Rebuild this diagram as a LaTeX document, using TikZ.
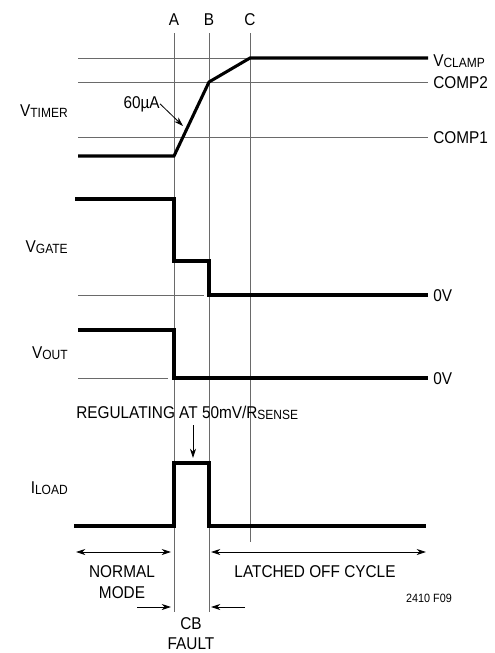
\documentclass[tikz,border=0pt]{standalone}
\usepackage{fontspec}
\setmainfont[FakeStretch=0.9]{Liberation Sans}
\usetikzlibrary{arrows.meta, positioning}
\definecolor{guidegray}{HTML}{6a6a6a}
\newcommand{\lsub}[1]{\raisebox{-1.3pt}{\fontsize{10}{10}\selectfont #1}}
\tikzset{
	signal/.style={line width=2.3pt, line join=miter},
	guide/.style={line width=0.7pt, draw=guidegray},
	lbl/.style={inner sep=0pt, font=\fontsize{12.8}{15.75}\selectfont},
	tip/.style={-{Stealth[length=7pt,width=4.5pt]}, line width=0.6pt},
	twotip/.style={{Stealth[length=7pt,width=4.5pt]}-{Stealth[length=7pt,width=4.5pt]}, line width=0.6pt},
}

\begin{document}
\begin{tikzpicture}[x=0.75pt, y=-0.75pt]
	\useasboundingbox (0,0) rectangle (494,653);

	% time marks
	\foreach \t/\x/\b in {A/174/612, B/209/612, C/250/542} {
		\node[lbl, anchor=base] (mark\t) at (\x,26) {\t};
		\coordinate (top\t) at (\x,33);
		\coordinate (bot\t) at (\x,\b);
		\draw[guide] (top\t) -- (bot\t);
	}

	% reference levels
	\coordinate (clampL) at (78,58);   \coordinate (clampR) at (428,58);
	\coordinate (comptwoL) at (78,82); \coordinate (comptwoR) at (428,82);
	\coordinate (componeL) at (78,137);\coordinate (componeR) at (428,137);
	\coordinate (gatezL) at (78,295);  \coordinate (gatezR) at (204,295);
	\coordinate (outzL) at (78,378);   \coordinate (outzR) at (168,378);
	\draw[guide] (clampL) -- (clampR);
	\draw[guide] (comptwoL) -- (comptwoR);
	\draw[guide] (componeL) -- (componeR);
	\draw[guide] (gatezL) -- (gatezR);
	\draw[guide] (outzL) -- (outzR);

	% waveforms
	\draw[signal] (78,156) -- (174,156) -- (209,82) -- (250,58) -- (428,58);
	\draw[signal] (75,199) -- (174,199) -- (174,261) -- (209,261) -- (209,295) -- (428,295);
	\draw[signal] (78,330) -- (174,330) -- (174,378) -- (428,378);
	\draw[signal] (74,526) -- (174,526) -- (174,463) -- (209,463) -- (209,526) -- (426,526);

	% signal names
	\node[lbl, anchor=base east] (vtimer) at (68,116) {V\lsub{TIMER}};
	\node[lbl, anchor=base east] (vgate) at (68,252) {V\lsub{GATE}};
	\node[lbl, anchor=base east] (vout) at (68,358) {V\lsub{OUT}};
	\node[lbl, anchor=base east] (iload) at (68,493) {I\lsub{LOAD}};

	% level names
	\node[lbl, anchor=base west] (vclamp) at (433,66) {V\lsub{CLAMP}};
	\node[lbl, anchor=base west] (comptwo) at (433,88) {COMP2};
	\node[lbl, anchor=base west] (compone) at (433,143) {COMP1};
	\node[lbl, anchor=base west] (gatezero) at (433,301) {0V};
	\node[lbl, anchor=base west] (outzero) at (433,384) {0V};

	% slope note
	\node[lbl, anchor=base east] (slope) at (160,108) {60µA};
	\coordinate (slopetip) at (183,126);
	\draw[tip] (slope.east) -- (slopetip);

	% regulation note
	\node[lbl, anchor=base west] (reg) at (76,418) {REGULATING AT 50mV/R\lsub{SENSE}};
	\coordinate (regtail) at (193,425);
	\coordinate (regtip) at (193,458);
	\draw[tip] (regtail) -- (regtip);

	% intervals
	\coordinate (normL) at (76,552);  \coordinate (normR) at (171,552);
	\coordinate (latchL) at (211,552); \coordinate (latchR) at (426,552);
	\draw[twotip] (normL) -- (normR);
	\draw[twotip] (latchL) -- (latchR);
	\node[lbl, align=center, anchor=base] (normal) at (122,598) {NORMAL\\MODE};
	\node[lbl, anchor=base] (latched) at (315,577) {LATCHED OFF CYCLE};

	\coordinate (faultAtail) at (137,607); \coordinate (faultAtip) at (171,607);
	\coordinate (faultBtail) at (245,607); \coordinate (faultBtip) at (211,607);
	\draw[tip] (faultAtail) -- (faultAtip);
	\draw[tip] (faultBtail) -- (faultBtip);
	\node[lbl, align=center, anchor=base, font=\fontsize{12.8}{14.5}\selectfont] (fault) at (191,649) {CB\\FAULT};

	\node[lbl, anchor=base, font=\fontsize{9}{10}\selectfont] (figno) at (429,602) {2410 F09};
\end{tikzpicture}
\end{document}
